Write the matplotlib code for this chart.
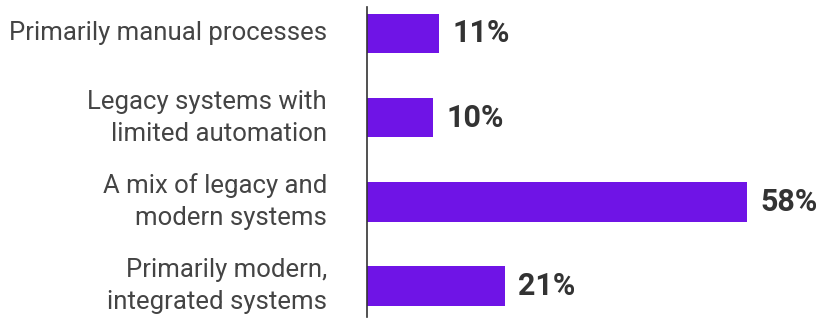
import matplotlib
matplotlib.use("Agg")
import matplotlib.pyplot as plt

# --- data ---
categories = [
    "Primarily manual processes",
    "Legacy systems with\nlimited automation",
    "A mix of legacy and\nmodern systems",
    "Primarily modern,\nintegrated systems",
]
values = [11, 10, 58, 21]

BAR_COLOR = "#6F14E6"
TEXT_COLOR = "#333333"

plt.rcParams["font.family"] = ["Roboto", "DejaVu Sans"]

fig = plt.figure(figsize=(8.23, 3.18), dpi=100)
ax = fig.add_axes([367 / 823, 1 / 318, 456 / 823, 310 / 318])

ypos = list(range(len(categories)))
ax.barh(ypos, values, height=0.47, color=BAR_COLOR)

ax.set_xlim(0, 69.6)
ax.set_ylim(3.37, -0.315)

# value labels at end of bars
for y, v in zip(ypos, values):
    ax.text(v + 2.1, y, f"{v}%", va="center", ha="left",
            fontsize=22, fontweight="bold", color=TEXT_COLOR)

# category labels left of axis
for y, lab in zip(ypos, categories):
    ax.text(-6.1, y, lab, va="center", ha="right", fontsize=18.5,
            fontweight="normal", color="#444444", linespacing=1.42)

for s in ["top", "right", "bottom"]:
    ax.spines[s].set_visible(False)
ax.spines["left"].set_color("#333333")
ax.spines["left"].set_linewidth(1.2)
ax.set_xticks([])
ax.set_yticks([])

fig.savefig("out.png", dpi=100)
